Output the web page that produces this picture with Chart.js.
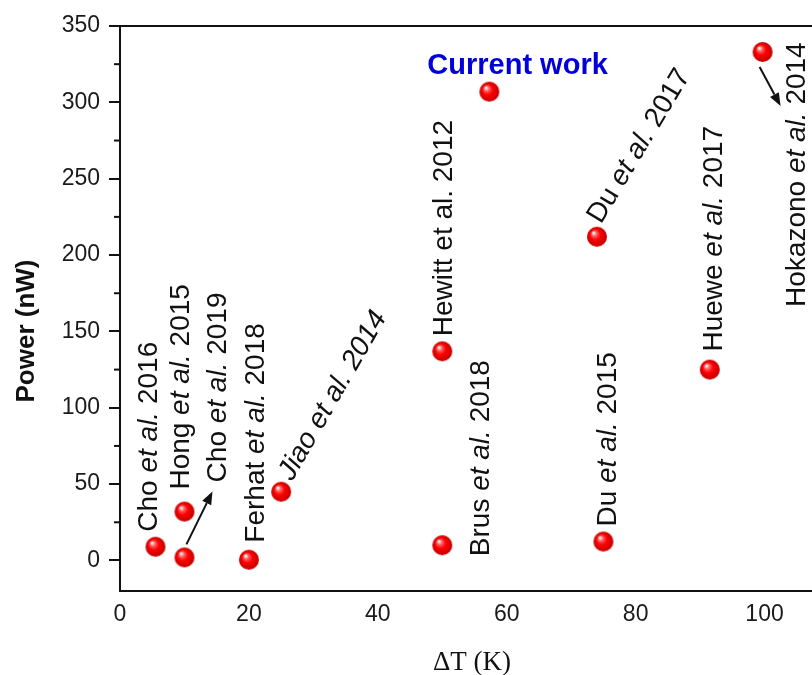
<!DOCTYPE html>
<html>
<head>
<meta charset="utf-8">
<script src="https://cdn.jsdelivr.net/npm/chart.js@4.4.1/dist/chart.umd.min.js"></script>
<style>
  html, body { margin: 0; padding: 0; background: #fff; overflow: hidden; }
  #wrap { width: 812px; height: 675px; overflow: hidden; }
  canvas { display: block; }
</style>
</head>
<body>
<div id="wrap"><canvas id="chart" width="840" height="675"></canvas></div>
<script>
// data
const studies = [
  "Cho et al. 2016", "Hong et al. 2015", "Cho et al. 2019", "Ferhat et al. 2018",
  "Jiao et al. 2014", "Hewitt et al. 2012", "Brus et al. 2018", "Current work",
  "Du et al. 2017", "Du et al. 2015", "Huewe et al. 2017", "Hokazono et al. 2014"
];
const deltaT = [5.5, 10, 10, 20, 25, 50, 50, 57.3, 74, 75, 91.5, 99.7];
const power  = [9, 32, 2, 0.5, 45, 137, 10, 307, 212, 12.4, 125, 333];

// label placement: pixel offset from its point, rotation, style
const labelLayout = [
  { dx: 2,   dy: -15, rot: -90, style: "etal" },
  { dx: 5,   dy: -22, rot: -90, style: "etal" },
  { dx: 42,  dy: -75, rot: -90, style: "etal" },
  { dx: 15,  dy: -17, rot: -90, style: "etal" },
  { dx: 11,  dy: -10, rot: -60, style: "italic" },
  { dx: 10,  dy: -15, rot: -90, style: "plain" },
  { dx: 47,  dy: 11,  rot: -90, style: "etal" },
  { dx: -62, dy: -18, rot: 0,   style: "current" },
  { dx: 4,   dy: -12, rot: -59, style: "etal" },
  { dx: 13,  dy: -15, rot: -90, style: "etal" },
  { dx: 12,  dy: -18, rot: -90, style: "etal" },
  { dx: 42,  dy: 255, rot: -90, style: "etal" }
];
// arrows: point index, start and end offsets in pixels
const arrows = [
  { i: 2,  x1: 2,  y1: -13, x2: 28, y2: -66 },
  { i: 11, x1: -3, y1: 15,  x2: 18, y2: 54 }
];

const SANS = '"Liberation Sans", Arial, sans-serif';
const ink = "#111";

function sphere(r) {
  const c = document.createElement("canvas");
  c.width = c.height = 2 * r + 2;
  const g = c.getContext("2d");
  const cx = r + 1, cy = r + 1;
  const grd = g.createRadialGradient(cx - r * 0.35, cy - r * 0.4, r * 0.05, cx, cy, r);
  grd.addColorStop(0, "#ffffff");
  grd.addColorStop(0.22, "#ff6060");
  grd.addColorStop(0.5, "#ff0000");
  grd.addColorStop(1, "#c00000");
  g.fillStyle = grd;
  g.beginPath();
  g.arc(cx, cy, r, 0, Math.PI * 2);
  g.fill();
  return c;
}

function parts(name, style) {
  if (style === "plain") return [{ t: name }];
  if (style === "italic") return [{ t: name, it: true }];
  if (style === "current") return [{ t: name, bold: true }];
  const k = name.indexOf("et al.");
  return [{ t: name.slice(0, k) }, { t: "et al.", it: true }, { t: name.slice(k + 6) }];
}

const decor = {
  id: "decor",
  afterDraw(chart) {
    const { ctx, chartArea: a, scales: { x, y } } = chart;
    ctx.save();
    // top and right frame
    ctx.strokeStyle = ink;
    ctx.lineWidth = 2;
    ctx.beginPath();
    ctx.moveTo(a.left - 1, a.top);
    ctx.lineTo(a.right, a.top);
    ctx.lineTo(a.right, a.bottom);
    ctx.stroke();
    // minor y ticks
    for (let v = 25; v < 350; v += 50) {
      const py = y.getPixelForValue(v);
      ctx.beginPath();
      ctx.moveTo(a.left - 6, py);
      ctx.lineTo(a.left, py);
      ctx.stroke();
    }

    // axis titles
    ctx.fillStyle = ink;
    ctx.save();
    ctx.translate(34, 331);
    ctx.rotate(-Math.PI / 2);
    ctx.font = "bold 26px " + SANS;
    ctx.textAlign = "center";
    ctx.fillText("Power (nW)", 0, 0);
    ctx.restore();
    ctx.font = '27px "Liberation Serif", "Times New Roman", serif';
    ctx.textAlign = "center";
    ctx.fillText("\u0394T (K)", 472, 670);

    // study labels
    ctx.textAlign = "left";
    studies.forEach((name, i) => {
      const L = labelLayout[i];
      const px = x.getPixelForValue(deltaT[i]) + L.dx;
      const py = y.getPixelForValue(power[i]) + L.dy;
      ctx.save();
      ctx.translate(px, py);
      ctx.rotate(L.rot * Math.PI / 180);
      let cx = 0;
      for (const p of parts(name, L.style)) {
        ctx.font = (p.it ? "italic " : "") + (p.bold ? "bold 29px " : "28px ") + SANS;
        ctx.fillStyle = p.bold ? "#0000dd" : ink;
        ctx.fillText(p.t, cx, 0);
        cx += ctx.measureText(p.t).width;
      }
      ctx.restore();
    });

    // arrows
    ctx.strokeStyle = ink;
    ctx.fillStyle = ink;
    ctx.lineWidth = 2;
    for (const ar of arrows) {
      const bx = x.getPixelForValue(deltaT[ar.i]);
      const by = y.getPixelForValue(power[ar.i]);
      const x1 = bx + ar.x1, y1 = by + ar.y1, x2 = bx + ar.x2, y2 = by + ar.y2;
      const ang = Math.atan2(y2 - y1, x2 - x1);
      const hl = 13, hw = 5;
      const hx = x2 - hl * Math.cos(ang), hy = y2 - hl * Math.sin(ang);
      ctx.beginPath();
      ctx.moveTo(x1, y1);
      ctx.lineTo(hx, hy);
      ctx.stroke();
      ctx.beginPath();
      ctx.moveTo(x2, y2);
      ctx.lineTo(hx + hw * Math.sin(ang), hy - hw * Math.cos(ang));
      ctx.lineTo(hx - hw * Math.sin(ang), hy + hw * Math.cos(ang));
      ctx.closePath();
      ctx.fill();
    }
    ctx.restore();
  }
};

new Chart(document.getElementById("chart"), {
  type: "scatter",
  data: {
    datasets: [{
      data: deltaT.map((v, i) => ({ x: v, y: power[i] })),
      pointStyle: sphere(10),
      pointRadius: 10
    }]
  },
  options: {
    responsive: false,
    animation: false,
    layout: { padding: { top: 26, right: 4, left: 0, bottom: 0 } },
    plugins: { legend: { display: false }, tooltip: { enabled: false } },
    scales: {
      x: {
        type: "linear",
        min: 0,
        max: 110,
        afterFit(s) { s.height = 84; },
        grid: { display: false, drawTicks: false },
        border: { display: true, color: ink, width: 2 },
        ticks: {
          stepSize: 20,
          includeBounds: false,
          padding: 10,
          maxRotation: 0,
          color: "#1a1a1a",
          font: { family: SANS, size: 23 }
        }
      },
      y: {
        min: -20,
        max: 350,
        afterFit(s) { s.width = 120; },
        grid: { drawOnChartArea: false, drawTicks: true, tickLength: 11, color: ink, lineWidth: 2 },
        border: { display: true, color: ink, width: 2 },
        ticks: {
          stepSize: 50,
          includeBounds: false,
          padding: 9,
          color: "#1a1a1a",
          font: { family: SANS, size: 23 }
        }
      }
    }
  },
  plugins: [decor]
});
</script>
</body>
</html>
